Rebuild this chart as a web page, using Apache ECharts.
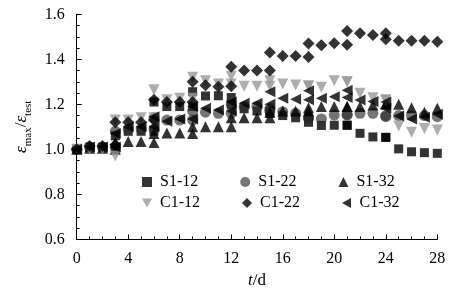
<!DOCTYPE html>
<html>
<head>
<meta charset="utf-8">
<script src="https://cdn.jsdelivr.net/npm/echarts@6/dist/echarts.min.js"></script>
<style>html,body{margin:0;padding:0;background:#fff}#c{width:472px;height:291px}</style>
</head>
<body>
<div id="c"></div>
<script>
// measurement days (days 3,6,...,24 carry two readings)
var days = [0,1,2,3,3,4,5,6,6,7,8,9,9,10,11,12,12,13,14,15,15,16,17,18,18,19,20,21,21,22,23,24,24,25,26,27,28];
var xTicks = [0,4,8,12,16,20,24,28];
var yTicks = [0.6,0.8,1.0,1.2,1.4,1.6];

var S1_12 = [1.0,1.01,1.01,1.0,1.06,1.08,1.08,1.08,1.21,1.19,1.19,1.19,1.256,1.237,1.238,1.23,1.20,1.18,1.17,1.17,1.16,1.15,1.14,1.14,1.12,1.106,1.107,1.107,1.107,1.071,1.055,1.053,1.053,1.002,0.989,0.985,0.982];
var S1_22 = [1.0,1.01,1.01,1.01,1.08,1.09,1.09,1.09,1.14,1.13,1.13,1.13,1.17,1.165,1.16,1.16,1.20,1.19,1.19,1.18,1.17,1.167,1.16,1.14,1.138,1.135,1.152,1.152,1.155,1.16,1.16,1.15,1.145,1.15,1.15,1.15,1.145];
var S1_32 = [1.0,1.005,1.005,1.0,1.03,1.035,1.035,1.03,1.07,1.073,1.073,1.07,1.10,1.10,1.10,1.10,1.14,1.14,1.14,1.14,1.165,1.17,1.17,1.17,1.185,1.19,1.19,1.19,1.19,1.19,1.197,1.2,1.204,1.2,1.185,1.165,1.182];
var C1_12 = [1.0,1.0,1.0,0.97,1.13,1.13,1.14,1.14,1.265,1.22,1.227,1.227,1.32,1.305,1.29,1.29,1.325,1.28,1.28,1.28,1.305,1.29,1.286,1.281,1.281,1.276,1.305,1.30,1.30,1.249,1.229,1.219,1.219,1.104,1.076,1.093,1.086];
var C1_22 = [1.0,1.015,1.015,1.02,1.12,1.12,1.12,1.13,1.22,1.21,1.21,1.21,1.30,1.285,1.278,1.28,1.367,1.35,1.35,1.35,1.43,1.415,1.415,1.41,1.47,1.463,1.471,1.465,1.526,1.516,1.508,1.516,1.489,1.483,1.483,1.483,1.478];
var C1_32 = [1.0,1.01,1.01,1.01,1.07,1.10,1.10,1.10,1.145,1.125,1.135,1.135,1.19,1.182,1.175,1.17,1.21,1.205,1.205,1.20,1.256,1.227,1.222,1.22,1.26,1.227,1.234,1.23,1.263,1.219,1.212,1.21,1.182,1.148,1.135,1.142,1.156];

var FONT = "'Liberation Serif','Times New Roman',serif";
function pairs(v){ return days.map(function(d,i){ return [d, v[i]]; }); }

var DOWN = 'path://M0,0L10,0L5,9Z';
var LEFT = 'path://M9,0L9,10L0,5Z';
var seriesDefs = [
  {name:'S1-12', data:S1_12, symbol:'rect', size:9, rot:0, color:'#000000', icon:'rect'},
  {name:'S1-22', data:S1_22, symbol:'circle', size:11, rot:0, color:'rgba(45,45,45,0.82)', icon:'circle'},
  {name:'S1-32', data:S1_32, symbol:'triangle', size:11, rot:0, color:'#000000', icon:'triangle'},
  {name:'C1-12', data:C1_12, symbol:'triangle', size:11, rot:180, color:'#999999', icon:DOWN},
  {name:'C1-22', data:C1_22, symbol:'diamond', size:12, rot:0, color:'#000000', icon:'diamond'},
  {name:'C1-32', data:C1_32, symbol:'triangle', size:11, rot:90, color:'#000000', icon:LEFT}
];
function legendItems(names){
  return names.map(function(n){
    var s = seriesDefs.filter(function(d){return d.name===n;})[0];
    return {name:n, icon:s.icon, itemStyle:{color:s.color}};
  });
}

var chart = echarts.init(document.getElementById('c'), null, {renderer:'canvas'});
var legendText = {fontFamily:FONT, fontSize:16, color:'#000', width:46, padding:[0,0,0,3]};
chart.setOption({
  animation:false,
  backgroundColor:'#fff',
  grid:{left:76.7, right:34.7, top:14.3, bottom:51.7, outerBoundsMode:'none', containLabel:false},
  legend:[
    {data:legendItems(['S1-12','S1-22','S1-32']), left:137, top:169, itemWidth:10, itemHeight:10, itemGap:42, symbolRotate:0, textStyle:legendText},
    {data:legendItems(['C1-12','C1-22','C1-32']), left:137, top:190, itemWidth:10, itemHeight:10, itemGap:42, symbolRotate:0, textStyle:legendText}
  ],
  xAxis:{
    type:'value', min:xTicks[0], max:xTicks[xTicks.length-1], interval:4,
    name:'{i|t}{n|/d}', nameLocation:'middle', nameGap:33,
    nameTextStyle:{rich:{i:{fontFamily:FONT, fontStyle:'italic', fontSize:17, color:'#000'}, n:{fontFamily:FONT, fontSize:17, color:'#000'}}},
    axisLine:{onZero:false, lineStyle:{color:'#000', width:1}},
    axisTick:{inside:true, length:5, lineStyle:{color:'#000'}},
    minorTick:{show:true, splitNumber:4, length:3, lineStyle:{color:'#000'}},
    axisLabel:{fontFamily:FONT, fontSize:16, color:'#000', margin:11},
    splitLine:{show:false}
  },
  yAxis:{
    type:'value', min:yTicks[0], max:yTicks[yTicks.length-1], interval:0.2,
    name:'{i|ε}{s|max}{n|/}{i|ε}{s|test}', nameLocation:'middle', nameGap:42, nameRotate:90,
    nameTextStyle:{rich:{
      i:{fontFamily:FONT, fontStyle:'italic', fontSize:17, color:'#000', lineHeight:24, verticalAlign:'middle'},
      s:{fontFamily:FONT, fontSize:11, color:'#000', lineHeight:24, verticalAlign:'bottom'},
      n:{fontFamily:FONT, fontSize:17, color:'#000', lineHeight:24, verticalAlign:'middle'}
    }},
    axisLine:{show:true, onZero:false, lineStyle:{color:'#000', width:1}},
    axisTick:{show:true, inside:true, length:5, lineStyle:{color:'#000'}},
    minorTick:{show:true, splitNumber:4, length:3, lineStyle:{color:'#000'}},
    axisLabel:{fontFamily:FONT, fontSize:16, color:'#000', margin:12, formatter:function(v){return v.toFixed(1);}},
    splitLine:{show:false}
  },
  series: seriesDefs.map(function(s){
    return {type:'scatter', name:s.name, data:pairs(s.data), symbol:s.symbol, symbolSize:s.size, symbolRotate:s.rot,
      itemStyle:{color:s.color}, emphasis:{disabled:true}};
  })
});
</script>
</body>
</html>
